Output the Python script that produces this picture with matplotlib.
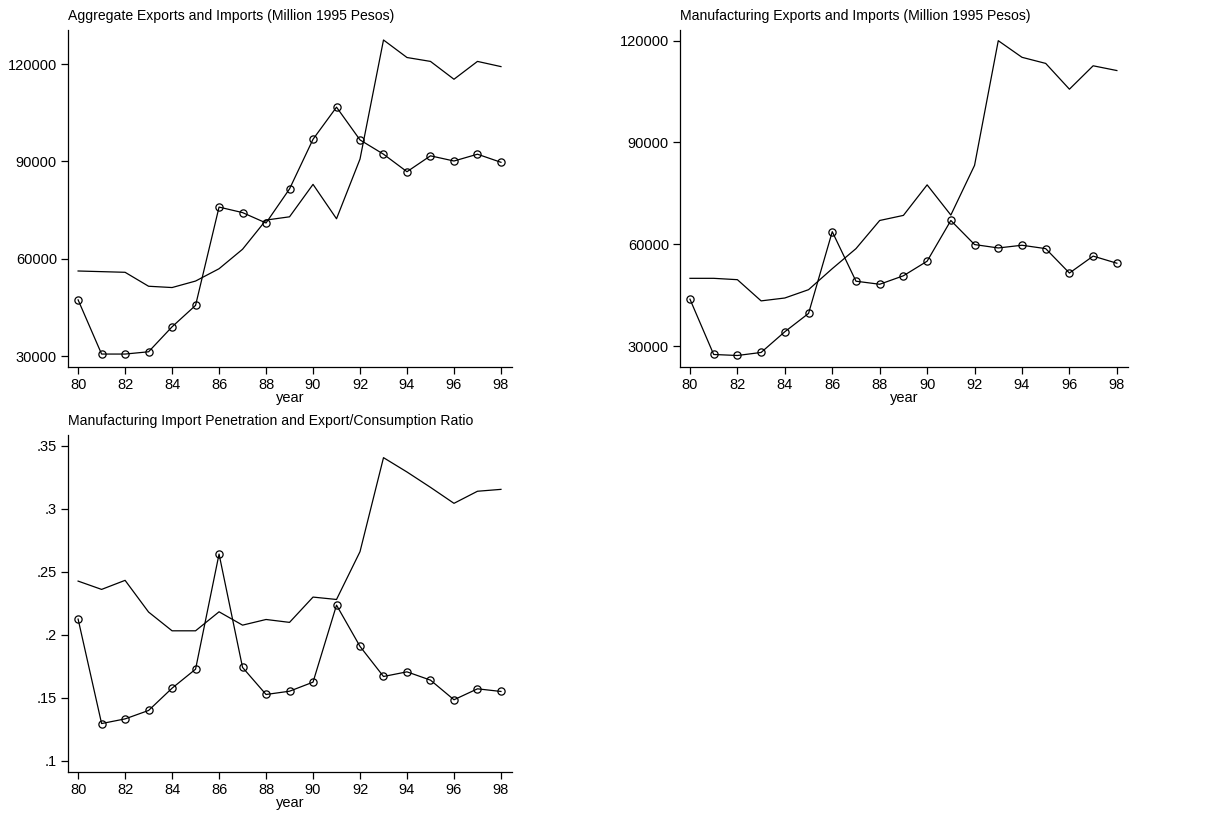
import matplotlib
matplotlib.use("Agg")
import matplotlib.pyplot as plt

plt.rcParams['font.family'] = ['Liberation Sans', 'DejaVu Sans']

years = list(range(80, 99))

# aggregate trade, million 1995 pesos
agg_line = [56200, 56000, 55800, 51500, 51100, 53100, 56900, 62900, 71900, 72900,
            82900, 72300, 90700, 127400, 122000, 120800, 115300, 120800, 119200]
agg_circ = [47300, 30600, 30600, 31300, 39000, 45600, 75900, 74200, 71000, 81500,
            96800, 106700, 96600, 92200, 86800, 91700, 90100, 92200, 89700]

# manufacturing trade, million 1995 pesos
man_line = [49950, 49950, 49550, 43300, 44150, 46600, 52800, 58700, 67000, 68500,
            77500, 68600, 83250, 120000, 115100, 113300, 105700, 112600, 111200]
man_circ = [43800, 27500, 27200, 28100, 34200, 39600, 63700, 49100, 48200, 50700,
            55000, 67000, 59900, 58900, 59700, 58700, 51500, 56500, 54400]

# import penetration and export/consumption ratio
rat_line = [.2426, .236, .2432, .218, .2031, .2031, .2182, .2076, .2121, .2098,
            .2299, .228, .266, .3407, .3293, .3171, .3044, .314, .3155]
rat_circ = [.2124, .1294, .1331, .1398, .1575, .1726, .2641, .174, .1525, .1551,
            .1623, .2235, .1907, .1668, .1705, .1639, .1483, .157, .1549]

W, H = 1222, 813
fig = plt.figure(figsize=(W / 100, H / 100), dpi=100)


def make_ax(x0, y0, x1, y1):
    # pixel box (left, top, right, bottom) -> figure fraction
    return fig.add_axes([x0 / W, 1 - y1 / H, (x1 - x0) / W, (y1 - y0) / H])


def draw(ax, line, circ, title, yticks, ylabels, ylim, xlim):
    ax.plot(years, line, color='black', lw=0.9)
    ax.plot(years, circ, color='black', lw=0.9, marker='o', ms=5.2,
            mfc='none', mec='black', mew=0.9)
    ax.set_xlim(*xlim)
    ax.set_ylim(*ylim)
    ax.set_xticks(range(80, 99, 2))
    ax.set_xticklabels([str(y) for y in range(80, 99, 2)])
    ax.set_yticks(yticks)
    ax.set_yticklabels(ylabels)
    for s in ('top', 'right'):
        ax.spines[s].set_visible(False)
    for s in ('left', 'bottom'):
        ax.spines[s].set_linewidth(0.9)
    ax.tick_params(direction='out', length=5, width=0.9, labelsize=10.5, pad=3)
    ax.set_xlabel('year', fontsize=10.5, labelpad=-1)
    ax.set_title(title, loc='left', fontsize=10.1, pad=7)


ax1 = make_ax(68, 30, 512, 367)
draw(ax1, agg_line, agg_circ, 'Aggregate Exports and Imports (Million 1995 Pesos)',
     [30000, 60000, 90000, 120000], ['30000', '60000', '90000', '120000'],
     (26610, 130480), (79.57, 98.47))

ax2 = make_ax(680, 30, 1128, 367)
draw(ax2, man_line, man_circ, 'Manufacturing Exports and Imports (Million 1995 Pesos)',
     [30000, 60000, 90000, 120000], ['30000', '60000', '90000', '120000'],
     (23810, 123150), (79.58, 98.47))

ax3 = make_ax(68, 435, 512, 772)
draw(ax3, rat_line, rat_circ, 'Manufacturing Import Penetration and Export/Consumption Ratio',
     [.1, .15, .2, .25, .3, .35], ['.1', '.15', '.2', '.25', '.3', '.35'],
     (0.0909, 0.3587), (79.57, 98.47))

fig.savefig('out.png', dpi=100)
